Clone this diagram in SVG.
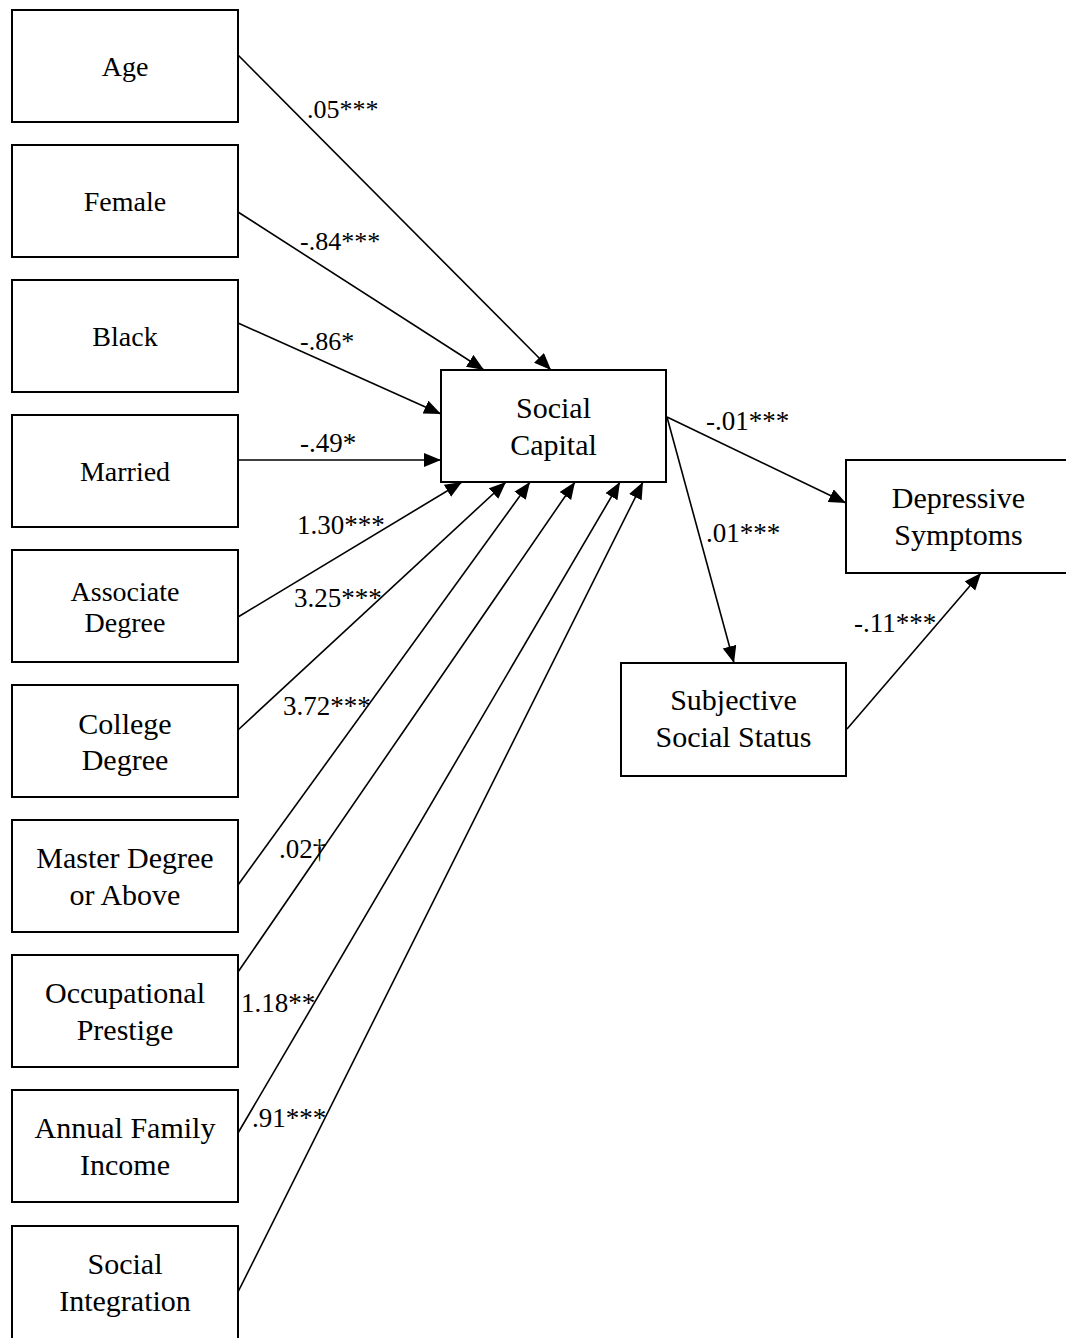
<svg xmlns="http://www.w3.org/2000/svg" width="1066" height="1338" viewBox="0 0 1066 1338">
<style>
rect.box{fill:#fff;stroke:#000;stroke-width:2}
.t{font-family:"Liberation Serif","Times New Roman",serif;fill:#000;text-anchor:middle}
.tm{font-size:28px}
.pl{font-size:30px}
.lab{font-family:"Liberation Serif","Times New Roman",serif;fill:#000;font-size:26px}
.lab2{font-size:27px}
.c line{stroke:#000;stroke-width:1.6;marker-end:url(#ah)}
</style>
<defs>
<marker id="ah" markerUnits="userSpaceOnUse" markerWidth="20" markerHeight="16" refX="17" refY="7" orient="auto">
<path d="M0,0 L17,7 L0,14 z" fill="#000"/>
</marker>
</defs>
<rect width="1066" height="1338" fill="#fff"/>
<g id="connectors" class="c">
<line x1="238" y1="55" x2="551" y2="370"/>
<line x1="238" y1="212" x2="484" y2="370"/>
<line x1="238" y1="323" x2="441" y2="414"/>
<line x1="238" y1="460" x2="441" y2="460"/>
<line x1="238" y1="617" x2="462" y2="482"/>
<line x1="238" y1="730" x2="506" y2="482"/>
<line x1="238" y1="885" x2="530" y2="482"/>
<line x1="238" y1="972" x2="575" y2="482"/>
<line x1="238" y1="1133" x2="620" y2="482"/>
<line x1="238" y1="1292" x2="643" y2="482"/>
<line x1="667" y1="417" x2="846" y2="503"/>
<line x1="667" y1="417" x2="734" y2="663"/>
<line x1="847" y1="729" x2="981" y2="573"/>
</g>
<g id="labels">
<text class="lab" x="307" y="118">.05***</text>
<text class="lab" x="300" y="250">-.84***</text>
<text class="lab" x="300" y="350">-.86*</text>
<text class="lab lab2" x="300" y="452">-.49*</text>
<text class="lab lab2" x="297" y="534">1.30***</text>
<text class="lab lab2" x="294" y="607">3.25***</text>
<text class="lab lab2" x="283" y="715">3.72***</text>
<text class="lab lab2" x="279" y="858">.02†</text>
<text class="lab lab2" x="241" y="1012">1.18**</text>
<text class="lab lab2" x="252" y="1127">.91***</text>
<text class="lab lab2" x="706" y="430">-.01***</text>
<text class="lab lab2" x="706" y="542">.01***</text>
<text class="lab lab2" x="854" y="632">-.11***</text>
</g>
<g id="age"><rect class="box" x="12" y="10" width="226" height="112"/><text class="t tm" x="125" y="76">Age</text></g>
<g id="female"><rect class="box" x="12" y="145" width="226" height="112"/><text class="t tm" x="125" y="211">Female</text></g>
<g id="black"><rect class="box" x="12" y="280" width="226" height="112"/><text class="t tm" x="125" y="346">Black</text></g>
<g id="married"><rect class="box" x="12" y="415" width="226" height="112"/><text class="t tm" x="125" y="481">Married</text></g>
<g id="associate"><rect class="box" x="12" y="550" width="226" height="112"/><text class="t tm" x="125" y="601">Associate</text><text class="t tm" x="125" y="632">Degree</text></g>
<g id="college"><rect class="box" x="12" y="685" width="226" height="112"/><text class="t pl" x="125" y="734">College</text><text class="t pl" x="125" y="770">Degree</text></g>
<g id="master"><rect class="box" x="12" y="820" width="226" height="112"/><text class="t pl" x="125" y="868">Master Degree</text><text class="t pl" x="125" y="905">or Above</text></g>
<g id="occupational"><rect class="box" x="12" y="955" width="226" height="112"/><text class="t pl" x="125" y="1003">Occupational</text><text class="t pl" x="125" y="1040">Prestige</text></g>
<g id="income"><rect class="box" x="12" y="1090" width="226" height="112"/><text class="t pl" x="125" y="1138">Annual Family</text><text class="t pl" x="125" y="1175">Income</text></g>
<g id="integration"><rect class="box" x="12" y="1226" width="226" height="116"/><text class="t pl" x="125" y="1274">Social</text><text class="t pl" x="125" y="1311">Integration</text></g>
<g id="social-capital"><rect class="box" x="441" y="370" width="225" height="112"/><text class="t pl" x="553.5" y="418">Social</text><text class="t pl" x="553.5" y="455">Capital</text></g>
<g id="depressive"><rect class="box" x="846" y="460" width="226" height="113"/><text class="t pl" x="958.5" y="508">Depressive</text><text class="t pl" x="958.5" y="545">Symptoms</text></g>
<g id="sss"><rect class="box" x="621" y="663" width="225" height="113"/><text class="t pl" x="733.5" y="710">Subjective</text><text class="t pl" x="733.5" y="747">Social Status</text></g>
</svg>
